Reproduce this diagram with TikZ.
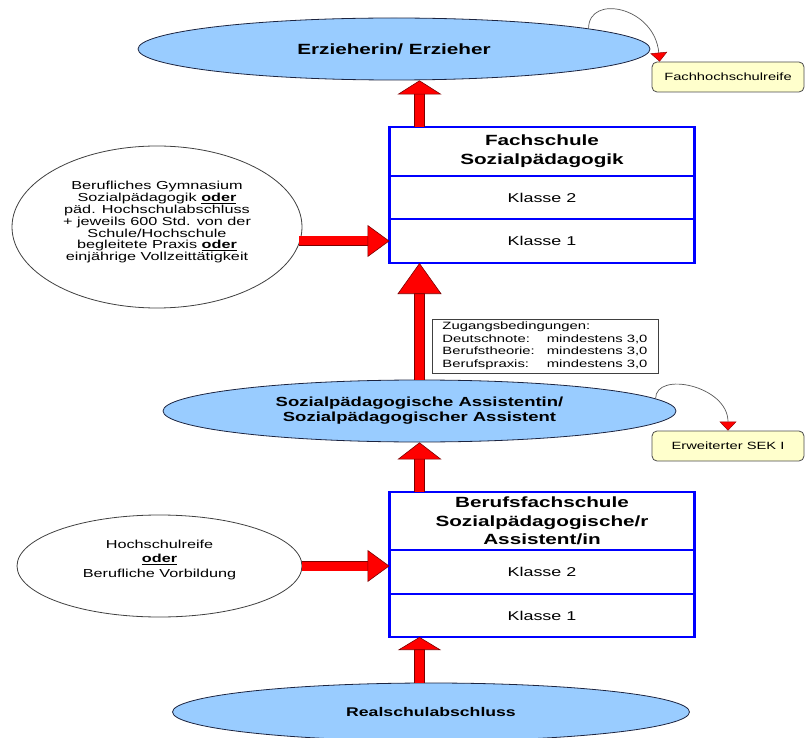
\documentclass[tikz,border=0pt]{standalone}
\usepackage{fontspec}
\setmainfont{Liberation Sans}[FakeStretch=1.4]
\usepackage{tikz}
\usetikzlibrary{shapes.geometric, arrows.meta, positioning}
\definecolor{ovalblue}{HTML}{99CCFF}
\definecolor{ovalline}{HTML}{1C2440}
\definecolor{noteyellow}{HTML}{FFFFCC}
\definecolor{arrowrim}{HTML}{7A0000}

\begin{document}
\begin{tikzpicture}[x=1pt, y=-1pt,
    oval/.style={ellipse, draw=ovalline, fill=ovalblue, line width=0.8pt, inner sep=0pt, align=center, font=\bfseries\fontsize{13.2}{15}\selectfont},
    bubble/.style={ellipse, draw=black!75, fill=white, line width=0.8pt, inner sep=0pt, align=center},
    schoolbox/.style={rectangle, draw=blue, line width=2.4pt, outer sep=0pt, minimum width=305pt, align=center, font=\bfseries\fontsize{14.8}{18.7}\selectfont},
    classrow/.style={schoolbox, font=\fontsize{12.8}{15}\selectfont},
    note/.style={rectangle, rounded corners=5pt, draw=black!70, fill=noteyellow, line width=0.8pt, minimum width=152pt, minimum height=30pt, font=\fontsize{10.5}{12}\selectfont},
    redarrow/.style 2 args={draw=red, line width=9pt, -{Triangle[width=#1, length=#2, color=arrowrim, fill=red, line width=0.6pt]}, preaction={draw=arrowrim, line width=10.2pt, arrows=-, shorten >=#2-1pt}},
    curvearrow/.style={draw=black!65, line width=0.7pt, -{Triangle[width=17pt, length=9pt, color=red!60!black, fill=red, line width=0.5pt]}}]
    \useasboundingbox (0,0) rectangle (806,738);

    \node[oval, minimum width=512pt, minimum height=62pt, font=\bfseries\fontsize{14.8}{17}\selectfont] (ez) at (394,49) {Erzieherin/ Erzieher};
    \node[note] (fhr) at (728,77) {Fachhochschulreife};

    \node[schoolbox, minimum height=49pt] (fs) at (542,151.5) {Fachschule\\Sozialpädagogik};
    \node[classrow, minimum height=43pt, below=0pt of fs] (fsk2) {Klasse 2};
    \node[classrow, minimum height=44pt, below=0pt of fsk2] (fsk1) {Klasse 1};

    \node[bubble, minimum width=290pt, minimum height=162pt, font=\fontsize{11.6}{11.8}\selectfont] (gym) at (157,227) {Berufliches Gymnasium\\Sozialpädagogik \underline{\textbf{oder}}\\päd. Hochschulabschluss\\+ jeweils 600 Std. von der\\Schule/Hochschule\\begleitete Praxis \underline{\textbf{oder}}\\einjährige Vollzeittätigkeit\\\mbox{}};

    \node[rectangle, draw=black!75, fill=white, line width=0.8pt, minimum width=226pt, minimum height=54pt, inner sep=0pt, font=\fontsize{10.6}{12.7}\selectfont] (zb) at (545,346) {\begin{tabular}{@{}l@{\hspace{12pt}}l@{}}
        \multicolumn{2}{@{}l@{}}{Zugangsbedingungen:}\\
        Deutschnote: & mindestens 3,0\\
        Berufstheorie: & mindestens 3,0\\
        Berufspraxis: & mindestens 3,0
    \end{tabular}};

    \node[oval, minimum width=513pt, minimum height=62pt] (sa) at (419.5,411) {Sozialpädagogische Assistentin/\\Sozialpädagogischer Assistent};
    \node[note] (sek) at (728,446) {Erweiterter SEK I};

    \node[schoolbox, minimum height=58pt] (bfs) at (542,521) {Berufsfachschule\\Sozialpädagogische/r\\Assistent/in};
    \node[classrow, minimum height=44pt, below=0pt of bfs] (bfsk2) {Klasse 2};
    \node[classrow, minimum height=43pt, below=0pt of bfsk2] (bfsk1) {Klasse 1};

    \node[bubble, minimum width=285pt, minimum height=102pt, font=\fontsize{11.6}{14.5}\selectfont] (hs) at (159.5,566) {Hochschulreife\\\underline{\textbf{oder}}\\Berufliche Vorbildung\\\mbox{}};

    \node[oval, minimum width=517pt, minimum height=58pt, font=\bfseries\fontsize{12.6}{15}\selectfont] (rs) at (431,712) {Realschulabschluss};

    \coordinate (mid) at (419.5,0);
    \draw[redarrow={44pt}{14pt}] (mid |- fs.north) -- (mid |- ez.south);
    \draw[redarrow={44pt}{31pt}] (mid |- sa.north) -- (mid |- fsk1.south);
    \draw[redarrow={44pt}{17pt}] (mid |- bfs.north) -- (mid |- sa.south);
    \draw[redarrow={43pt}{13pt}] (mid |- rs.north) -- (mid |- bfsk1.south);
    \draw[redarrow={32pt}{22pt}] ([xshift=-3pt]gym.east |- fsk1.west) -- (fsk1.west);
    \draw[redarrow={32pt}{22pt}] (hs.east) -- (hs.east -| bfsk2.west);

    \draw[curvearrow] (ez.6) .. controls +(0,-35) and +(-5,-55) .. ([xshift=8pt]fhr.north west);
    \draw[curvearrow] (sa.3) .. controls +(0,-28) and +(0,-45) .. (sek.north);
\end{tikzpicture}
\end{document}
